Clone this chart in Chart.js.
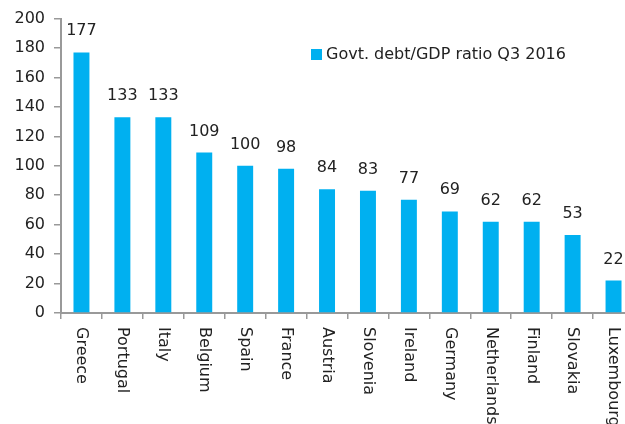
<!DOCTYPE html>
<html>
<head>
<meta charset="utf-8">
<script src="https://cdn.jsdelivr.net/npm/chart.js@4/dist/chart.umd.min.js"></script>
<style>
  html, body { margin: 0; padding: 0; background: #fff; overflow: hidden; width: 625px; height: 424px; }
  canvas { display: block; }
</style>
</head>
<body>
<canvas id="c" width="636" height="424"></canvas>
<script>
const countries = ['Greece', 'Portugal', 'Italy', 'Belgium', 'Spain', 'France', 'Austria',
  'Slovenia', 'Ireland', 'Germany', 'Netherlands', 'Finland', 'Slovakia', 'Luxembourg'];
const debtRatio = [177, 133, 133, 109, 100, 98, 84, 83, 77, 69, 62, 62, 53, 22];
const seriesLabel = 'Govt. debt/GDP ratio Q3 2016';

const FONT = '"DejaVu Sans", sans-serif';
const TEXT = '#222222';
const AXIS = '#999999';
const BAR = '#00b0f0';

// Value labels above bars, rotated category names and the legend box
const decorations = {
  id: 'decorations',
  afterDraw(chart) {
    const ctx = chart.ctx;
    const x = chart.scales.x;
    const y = chart.scales.y;
    const area = chart.chartArea;
    ctx.save();
    ctx.font = '16px ' + FONT;
    ctx.fillStyle = TEXT;

    // values
    ctx.textAlign = 'center';
    ctx.textBaseline = 'alphabetic';
    debtRatio.forEach((v, i) => {
      ctx.fillText(String(v), x.getPixelForValue(i), y.getPixelForValue(v) - 17);
    });

    // category names, reading downward
    ctx.textAlign = 'left';
    ctx.textBaseline = 'middle';
    countries.forEach((name, i) => {
      ctx.save();
      ctx.translate(x.getPixelForValue(i), area.bottom + 14);
      ctx.rotate(Math.PI / 2);
      ctx.fillText(name, 0, 0);
      ctx.restore();
    });

    // legend
    ctx.fillStyle = BAR;
    ctx.fillRect(311, 49, 11, 11);
    ctx.fillStyle = TEXT;
    ctx.textBaseline = 'middle';
    ctx.fillText(seriesLabel, 326, 55);
    ctx.restore();
  }
};

new Chart(document.getElementById('c'), {
  type: 'bar',
  data: {
    labels: countries,
    datasets: [{
      label: seriesLabel,
      data: debtRatio,
      backgroundColor: BAR,
      borderWidth: 0,
      categoryPercentage: 1,
      barPercentage: 0.39
    }]
  },
  options: {
    responsive: false,
    animation: false,
    layout: { padding: { top: 17, right: 2, bottom: 0, left: 0 } },
    plugins: { legend: { display: false }, tooltip: { enabled: false } },
    scales: {
      x: {
        offset: true,
        grid: { display: true, drawOnChartArea: false, offset: true, color: AXIS, lineWidth: 1.5, tickLength: 6 },
        border: { display: true, color: AXIS, width: 2 },
        ticks: { color: 'rgba(0,0,0,0)', autoSkip: false, minRotation: 90, maxRotation: 90, font: { size: 16, family: FONT } },
        afterFit(scale) { scale.height = 111; }
      },
      y: {
        min: 0,
        max: 200,
        ticks: { stepSize: 20, color: TEXT, padding: 9, font: { size: 16, family: FONT } },
        grid: { display: true, drawOnChartArea: false, color: AXIS, lineWidth: 1.5, tickLength: 7 },
        border: { display: true, color: AXIS, width: 2 },
        afterFit(scale) { scale.width = 61; }
      }
    }
  },
  plugins: [decorations]
});
</script>
</body>
</html>
